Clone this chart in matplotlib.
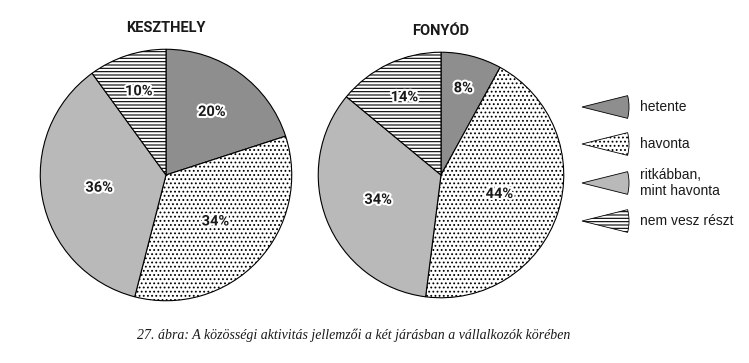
import numpy as np
import matplotlib
matplotlib.use("Agg")
from matplotlib import pyplot as plt
from matplotlib.patches import Wedge
import matplotlib.patheffects as pe


categories = ["hetente", "havonta", "ritkábban,\nmint havonta", "nem vesz részt"]
keszthely = [20, 34, 36, 10]
fonyod = [8, 44, 34, 14]
titles = ["KESZTHELY", "FONYÓD"]
caption = "27. ábra: A közösségi aktivitás jellemzői a két járásban a vállalkozók körében"

COLORS = ["#8e8e8e", "white", "#b9b9b9", "white"]
HATCHES = [None, "....", None, "-----"]

# radial position of each label (fraction of radius)
KESZ_DIST = [0.62, 0.54, 0.54, 0.70]
FONY_DIST = [0.73, 0.50, 0.55, 0.70]

plt.rcParams["hatch.linewidth"] = 0.8


def draw_pie(ax, values, title, dists):
    wedges, _ = ax.pie(values, startangle=90, counterclock=False,
                       colors=COLORS, radius=1.0,
                       wedgeprops=dict(edgecolor="black", linewidth=0.8))
    for w, h in zip(wedges, HATCHES):
        if h:
            w.set_hatch(h)
    for w, v, d in zip(wedges, values, dists):
        ang = np.deg2rad((w.theta1 + w.theta2) / 2)
        ax.text(d * np.cos(ang), d * np.sin(ang), "{}%".format(v),
                ha="center", va="center", fontsize=10.5, fontweight="bold",
                family="Roboto", color="#1a1a1a",
                path_effects=[pe.withStroke(linewidth=3, foreground="white")])
    ax.set_xlim(-1.01, 1.01)
    ax.set_ylim(-1.01, 1.01)
    ax.set_aspect("equal")
    ax.axis("off")
    ax.text(0, 1.17, title, ha="center", va="center", fontsize=10.5,
            fontweight="bold", family="Roboto", color="#1a1a1a")


W, H = 749, 363
fig = plt.figure(figsize=(W / 100, H / 100), dpi=100)


def px_axes(cx, cy, r):
    return fig.add_axes([(cx - r) / W, (H - cy - r) / H, 2 * r / W, 2 * r / H])


ax1 = px_axes(166, 175, 127)
draw_pie(ax1, keszthely, titles[0], KESZ_DIST)
ax2 = px_axes(441, 175, 124)
draw_pie(ax2, fonyod, titles[1], FONY_DIST)

# overlay in pixel coordinates for legend and caption
ov = fig.add_axes([0, 0, 1, 1], zorder=-1)
ov.set_xlim(0, W)
ov.set_ylim(H, 0)
ov.axis("off")

leg_y = [107, 144, 183, 221]
for cat, col, hat, y in zip(categories, COLORS, HATCHES, leg_y):
    wd = Wedge((582, y), 47, -14, 14, facecolor=col, edgecolor="black",
               linewidth=0.6, hatch=hat)
    ov.add_patch(wd)
    ov.text(640, y, cat, ha="left", va="center", fontsize=10,
            family="Liberation Sans", color="#1a1a1a", linespacing=1.15)

ov.text(354, 335, caption, ha="center", va="center", fontsize=10,
        family="Liberation Serif", style="italic", color="#1a1a1a")

fig.savefig("out.png", dpi=100)
